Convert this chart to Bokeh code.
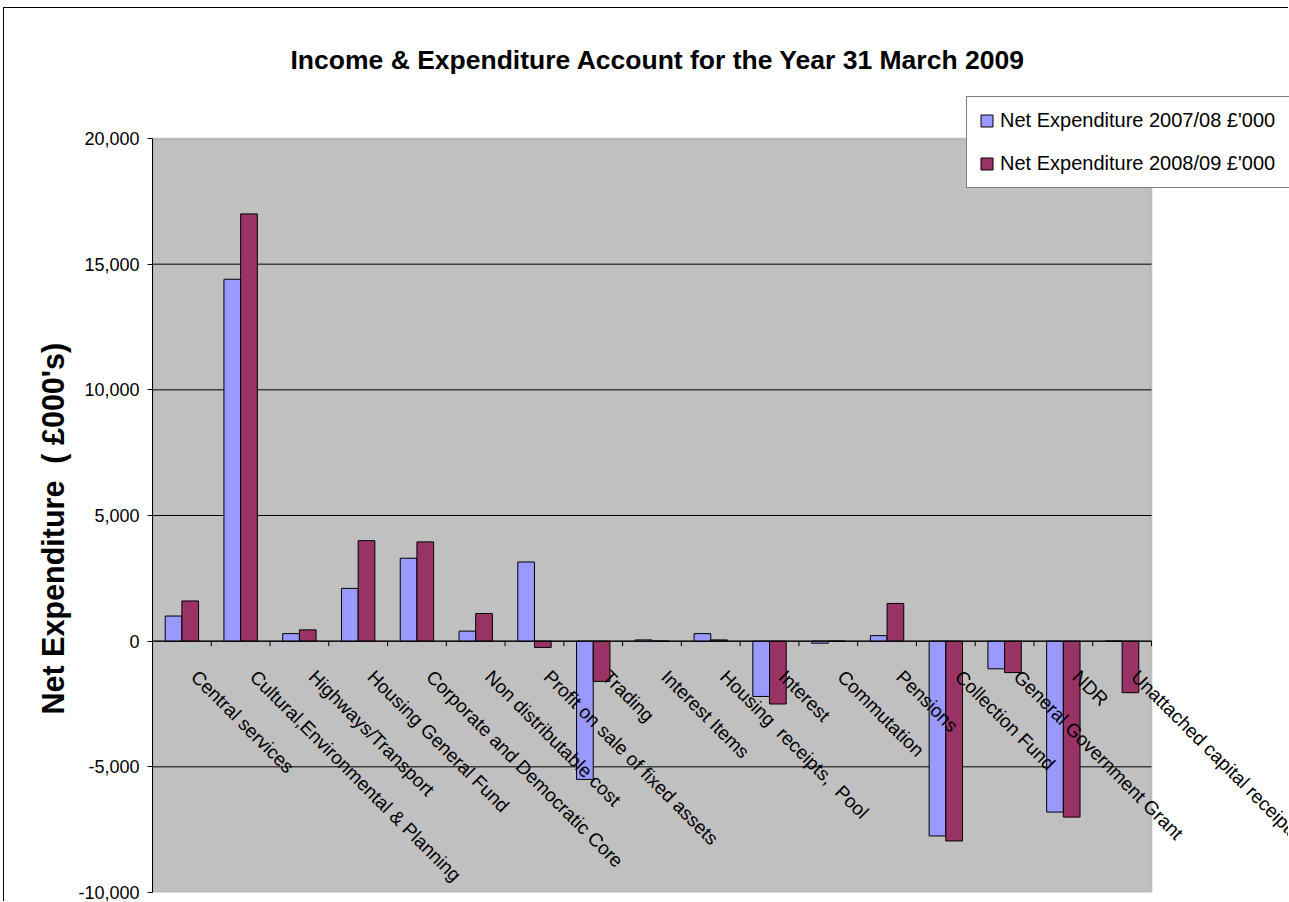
import math
from bokeh.plotting import figure
from bokeh.models import (ColumnDataSource, LabelSet, FixedTicker, BoxAnnotation, Title,
                          NumeralTickFormatter, Legend, LegendItem, Range1d)
from bokeh.core.properties import value
from bokeh.transform import dodge
from bokeh.embed import file_html
from bokeh.resources import INLINE

# ---- data ----
categories = [
    "Central services",
    "Cultural,Environmental & Planning",
    "Highways/Transport",
    "Housing General Fund",
    "Corporate and Democratic Core",
    "Non distributable cost",
    "Profit on sale of fixed assets",
    "Trading",
    "Interest Items",
    "Housing \u00a0receipts, \u00a0Pool",
    "Interest",
    "Commutation",
    "Pensions",
    "Collection Fund",
    "General Government Grant",
    "NDR",
    "Unattached capital receipts",
]
net_exp_2007_08 = [1000, 14400, 300, 2100, 3300, 400, 3150, -5500, 50, 300,
                   -2200, -80, 220, -7750, -1100, -6800, 0]
net_exp_2008_09 = [1600, 17000, 450, 4000, 3950, 1100, -250, -1600, 0, 50,
                   -2500, 0, 1500, -7950, -1250, -7000, -2050]
series_names = ["Net Expenditure 2007/08 \u00a3'000", "Net Expenditure 2008/09 \u00a3'000"]
y_ticks = [-10000, -5000, 0, 5000, 10000, 15000, 20000]
grid_values = [-5000, 0, 5000, 10000, 15000]

FONT = "Liberation Sans"
n = len(categories)
y_min, y_max = y_ticks[0], y_ticks[-1]

source = ColumnDataSource(dict(
    cat=categories,
    xc=[i + 0.5 for i in range(n)],
    a=net_exp_2007_08, b=net_exp_2008_09,
    zero=[0] * n,
))

# plotting frame is larger than the grey wall so that labels and the legend
# can run into the white chart area, as in the original spreadsheet chart
x_end = n * (1289 - 152) / (1151 - 152)
y_end = y_max + (y_max - y_min) * (138 - 90) / (892 - 138)

p = figure(
    x_range=Range1d(0, x_end),
    y_range=Range1d(y_min, y_end),
    width=1285, height=894,
    margin=(7, 0, 0, 3),
    styles={"border-top": "1px solid black", "border-left": "1px solid black"},
    output_backend="svg", toolbar_location=None,
    min_border_left=148, min_border_right=0, min_border_top=82, min_border_bottom=10,
    title="Income & Expenditure Account for the Year 31 March 2009",
)

p.background_fill_color = "white"
p.border_fill_color = "white"
p.outline_line_color = None

p.title.align = "left"
p.title.offset = 138
p.title.vertical_align = "bottom"
p.title.text_font = FONT
p.title.text_font_size = "26.5px"
p.title.text_font_style = "bold"
p.title.text_color = "black"
p.title.standoff = 32

# plot area (grey wall)
p.add_layout(BoxAnnotation(left=0, right=n, bottom=y_min, top=y_max,
                           fill_color="#C0C0C0", fill_alpha=1,
                           line_color="#808080", line_width=2, level="underlay"))

# horizontal gridlines limited to the plot area
p.segment(x0=[0] * len(grid_values), x1=[n] * len(grid_values),
          y0=grid_values, y1=grid_values, line_color="black", line_width=1)

# bars
w = 0.284
r1 = p.vbar(x=dodge("xc", -w / 2), top="a", bottom=0, width=w,
            source=source, fill_color="#9999FF", line_color="black", line_width=1)
r2 = p.vbar(x=dodge("xc", w / 2), top="b", bottom=0, width=w,
            source=source, fill_color="#993366", line_color="black", line_width=1)

# category axis along zero with tick marks between categories
p.segment(x0=[0], x1=[n], y0=[0], y1=[0], line_color="black", line_width=1)
p.segment(x0=dodge("xc", 0.5), y0="zero", x1=dodge("xc", 0.5), y1=-200,
          source=source, line_color="black", line_width=1)

labels = LabelSet(x="xc", y="zero", text="cat", source=source,
                  angle=-math.pi / 4, x_offset=20, y_offset=-25,
                  text_align="left", text_baseline="top",
                  text_font=value(FONT), text_font_size="19px", text_color="black")
p.add_layout(labels)

# axes
p.xaxis.visible = False
p.xgrid.visible = False
p.ygrid.visible = False

yax = p.yaxis[0]
yax.bounds = (y_min, y_max)
yax.ticker = FixedTicker(ticks=y_ticks)
yax.formatter = NumeralTickFormatter(format="0,0")
yax.axis_line_color = "black"
yax.major_tick_line_color = "black"
yax.major_tick_out = 5
yax.major_tick_in = 0
yax.minor_tick_line_color = None
yax.major_label_standoff = 8
yax.major_label_text_font = FONT
yax.major_label_text_font_size = "18px"
yax.major_label_text_color = "black"

# y-axis title placed as a side title so that it can be positioned along the axis
ytitle = Title(text="Net Expenditure \u00a0( \u00a3000's)", align="left", offset=178,
               vertical_align="bottom", standoff=12,
               text_font=FONT, text_font_size="30.5px", text_font_style="bold",
               text_color="black")
p.add_layout(ytitle, "left")

legend = Legend(
    items=[LegendItem(label=series_names[0], renderers=[r1]),
           LegendItem(label=series_names[1], renderers=[r2])],
    location=(814, 704),
    orientation="vertical",
    label_text_font=FONT, label_text_font_size="20px", label_text_color="black",
    glyph_width=15, glyph_height=15, label_standoff=6, label_height=23, label_width=300,
    spacing=20, padding=12, margin=0,
    border_line_color="black", border_line_width=1,
    background_fill_color="white", background_fill_alpha=1,
)
p.add_layout(legend)

open("out.html", "w").write(file_html(p, INLINE))
